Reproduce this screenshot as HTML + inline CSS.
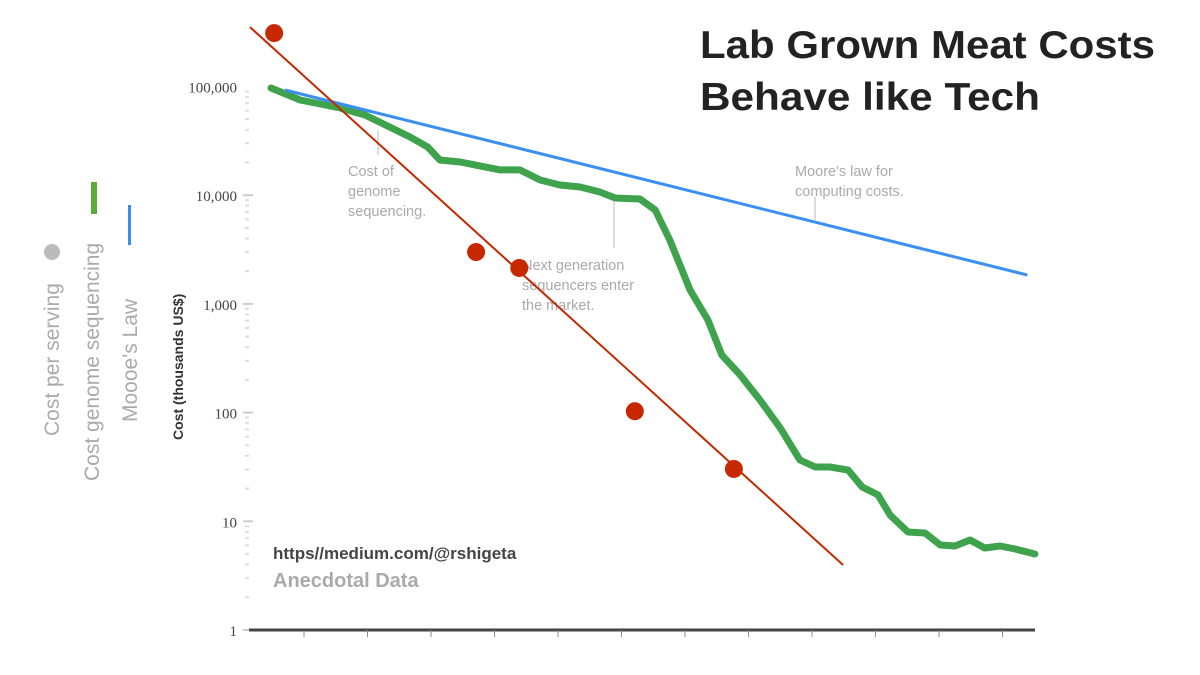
<!DOCTYPE html>
<html><head><meta charset="utf-8"><style>
body{margin:0;background:#fff;}
svg{display:block;font-family:"Liberation Sans",sans-serif;}
</style></head><body>
<svg id="chart" width="1200" height="675" viewBox="0 0 1200 675" xmlns="http://www.w3.org/2000/svg">
<text x="700" y="58" font-size="39" font-weight="bold" fill="#222" textLength="455" lengthAdjust="spacingAndGlyphs">Lab Grown Meat Costs</text>
<text x="700" y="110" font-size="39" font-weight="bold" fill="#222" textLength="340" lengthAdjust="spacingAndGlyphs">Behave like Tech</text>
<g>
<text transform="translate(59,436) rotate(-90)" font-size="21" fill="#aaa">Cost per serving</text>
<circle cx="52" cy="252" r="8" fill="#bbb"/>
<text transform="translate(99,481) rotate(-90)" font-size="21" fill="#aaa">Cost genome sequencing</text>
<rect x="91" y="182" width="6" height="32" fill="#5aaa3c"/>
<text transform="translate(137,422) rotate(-90)" font-size="21" fill="#aaa">Moooe's Law</text>
<rect x="128" y="205" width="3" height="40" fill="#3a8ff0"/>
</g>
<text transform="translate(183,440) rotate(-90)" font-size="14" font-weight="bold" fill="#333">Cost (thousands US$)</text>
<g id="axes"></g>
<g id="annotations" fill="#aaa" font-size="14.5">
<line x1="378" y1="130" x2="378" y2="155" stroke="#bbb"/>
<text><tspan x="348" y="176">Cost of</tspan><tspan x="348" y="196">genome</tspan><tspan x="348" y="216">sequencing.</tspan></text>
<line x1="614" y1="200" x2="614" y2="248" stroke="#bbb"/>
<text><tspan x="522" y="270">Next generation</tspan><tspan x="522" y="290">sequencers enter</tspan><tspan x="522" y="310">the market.</tspan></text>
<line x1="815" y1="197" x2="815" y2="220" stroke="#bbb"/>
<text><tspan x="795" y="176">Moore's law for</tspan><tspan x="795" y="196">computing costs.</tspan></text>
</g>
<g id="marks"></g>
<text x="273" y="559" font-size="17" font-weight="bold" fill="#444">https//medium.com/@rshigeta</text>
<text x="273" y="587" font-size="20" font-weight="bold" fill="#aaa">Anecdotal Data</text>
</svg>
<script>
const yTicks=[1,10,100,1000,10000,100000];
const yTickLabels=["1","10","100","1,000","10,000","100,000"];
const xTickYears=[2002,2003,2004,2005,2006,2007,2008,2009,2010,2011,2012,2013];
const genomeYears=[2001.48,2001.94,2002.57,2002.96,2003.28,2003.67,2003.95,2004.14,2004.46,2004.77,2005.09,2005.40,2005.72,2006.03,2006.35,2006.66,2006.90,2007.29,2007.53,2007.76,2008.08,2008.36,2008.58,2008.87,2009.18,2009.50,2009.81,2010.05,2010.28,2010.57,2010.79,2011.04,2011.23,2011.51,2011.78,2012.02,2012.25,2012.49,2012.72,2012.96,2013.20,2013.51];
const genomeCost=[96900,75100,63400,54700,44300,34300,27700,21100,20200,18600,17100,17100,13800,12400,11900,10700,9420,9230,7310,3870,1340,711,339,222,131,72,36.6,31.6,31.6,29.6,20.7,17.5,11.4,7.97,7.8,6.05,5.93,6.73,5.68,5.93,5.56,5.0];
const mooreYears=[2001.70,2013.39];
const mooreCost=[92900,1845];
const trendYears=[2001.15,2010.49];
const trendCost=[352000,3.96];
const servingYears=[2001.53,2004.71,2005.39,2007.21,2008.77];
const servingCost=[310000,3000,2140,103,30.3];

const NS="http://www.w3.org/2000/svg";
const X=yr=>304+(yr-2002)*63.5;
const Y=v=>630-Math.log10(v)*108.7;
function mk(tag,attrs,parent){const e=document.createElementNS(NS,tag);for(const k in attrs)e.setAttribute(k,attrs[k]);parent.appendChild(e);return e;}
const axes=document.getElementById('axes'), marks=document.getElementById('marks');

yTicks.forEach((v,i)=>{
  const t=mk('text',{x:237,y:Y(v)+6,'text-anchor':'end','font-size':15,fill:'#444','font-family':'Liberation Serif, serif'},axes);
  
  
  t.textContent=yTickLabels[i];
  if(v<100000){
    const tk=mk('line',{x1:243,x2:253,y1:Y(v),y2:Y(v),stroke:'#ccc','stroke-width':2},axes);
    
    
  }
  if(v<100000){for(let m=2;m<10;m++){
    const mt=mk('line',{x1:245,x2:249,y1:Y(v*m),y2:Y(v*m),stroke:'#ddd','stroke-width':2},axes);
    
    
  }}
});
const ax=mk('line',{x1:249,x2:1035,y1:630,y2:630,stroke:'#444','stroke-width':3},axes);


xTickYears.forEach(yr=>{
  const t=mk('line',{x1:X(yr),x2:X(yr),y1:630,y2:637,stroke:'#888','stroke-width':1},axes);
  
  
});

const path=(xs,ys)=>xs.map((x,i)=>(i?'L':'M')+X(x).toFixed(1)+','+Y(ys[i]).toFixed(1)).join(' ');
const g=mk('path',{d:path(genomeYears,genomeCost),fill:'none',stroke:'#3fa34d','stroke-width':7,'stroke-linejoin':'round','stroke-linecap':'round'},marks);


const m=mk('path',{d:path(mooreYears,mooreCost),fill:'none',stroke:'#3a8ff0','stroke-width':3},marks);


const tr=mk('path',{d:path(trendYears,trendCost),fill:'none',stroke:'#c22a00','stroke-width':2},marks);


servingYears.forEach((yr,i)=>{
  const c=mk('circle',{cx:X(yr),cy:Y(servingCost[i]),r:9,fill:'#c82800'},marks);
  
  
});
</script>
</body></html>
